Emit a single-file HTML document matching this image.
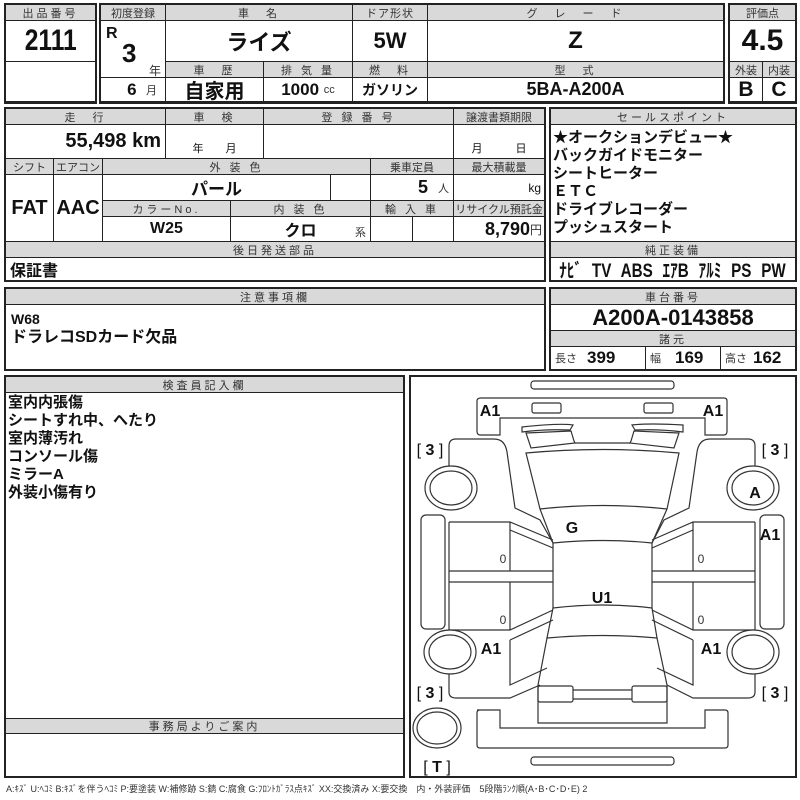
<!DOCTYPE html>
<html><head><meta charset="utf-8"><style>
body{margin:0;width:800px;height:800px;background:#fff;position:relative;overflow:hidden;font-family:"Liberation Sans Narrow","Liberation Sans","Noto Sans CJK JP",sans-serif;color:#111}
.b{position:absolute;box-sizing:border-box;border:1px solid #222;display:flex;align-items:center;justify-content:center;white-space:nowrap;background:#fff}
.h{background:#d9d9d9;font-size:11px;color:#333;letter-spacing:3px;font-family:"Liberation Sans","Noto Sans CJK JP",sans-serif}
.v{font-weight:bold;font-size:20px}
.o{position:absolute;box-sizing:border-box;border:2px solid #222}
.t{position:absolute;white-space:nowrap}
.s{font-size:11px;font-weight:normal;color:#333}
.n{display:inline-block;transform:scaleX(.82)}
</style></head><body>
<!-- top -->
<div class="o" style="left:4px;top:3px;width:93px;height:101px"></div>
<div class="b h" style="left:5px;top:4px;width:91px;height:17px">出品番号</div>
<div class="b v" style="left:5px;top:20px;width:91px;height:42px;font-size:30px"><span class="n">2111</span></div>
<div class="b" style="left:5px;top:61px;width:91px;height:41px"></div>

<div class="o" style="left:99px;top:3px;width:626px;height:101px"></div>
<div class="b h" style="left:100px;top:4px;width:66px;height:17px;letter-spacing:0">初度登録</div>
<div class="b h" style="left:165px;top:4px;width:188px;height:17px">車　名</div>
<div class="b h" style="left:352px;top:4px;width:76px;height:17px;letter-spacing:1px">ドア形状</div>
<div class="b h" style="left:427px;top:4px;width:297px;height:17px">グ　レ　ー　ド</div>
<div class="b" style="left:100px;top:20px;width:66px;height:58px"></div>
<div class="t" style="left:106px;top:25px;font-weight:bold;font-size:16px">R</div>
<div class="t" style="left:122px;top:38px;font-weight:bold;font-size:26px">3</div>
<div class="t s" style="left:149px;top:62px;font-size:12px">年</div>
<div class="b v" style="left:165px;top:20px;width:188px;height:42px;font-size:22px">ライズ</div>
<div class="b v" style="left:352px;top:20px;width:76px;height:42px;font-size:22px">5W</div>
<div class="b v" style="left:427px;top:20px;width:297px;height:42px;font-size:24px">Z</div>
<div class="b h" style="left:165px;top:61px;width:99px;height:17px">車　歴</div>
<div class="b h" style="left:263px;top:61px;width:90px;height:17px">排 気 量</div>
<div class="b h" style="left:352px;top:61px;width:76px;height:17px">燃　料</div>
<div class="b h" style="left:427px;top:61px;width:297px;height:17px">型　式</div>
<div class="b v" style="left:100px;top:77px;width:66px;height:25px;justify-content:flex-end;padding-right:8px;font-size:17px">6&nbsp;&nbsp;<span class="s">月</span></div>
<div class="b v" style="left:165px;top:77px;width:99px;height:25px;font-size:20px">自家用</div>
<div class="b v" style="left:263px;top:77px;width:90px;height:25px;font-size:17px">1000&nbsp;<span class="s">cc</span></div>
<div class="b v" style="left:352px;top:77px;width:76px;height:25px;font-size:14px">ガソリン</div>
<div class="b v" style="left:427px;top:77px;width:297px;height:25px;font-size:18px">5BA-A200A</div>

<div class="o" style="left:728px;top:3px;width:69px;height:101px"></div>
<div class="b h" style="left:729px;top:4px;width:67px;height:17px;letter-spacing:0">評価点</div>
<div class="b v" style="left:729px;top:20px;width:67px;height:42px;font-size:30px">4.5</div>
<div class="b h" style="left:729px;top:61px;width:34px;height:17px;letter-spacing:0">外装</div>
<div class="b h" style="left:762px;top:61px;width:34px;height:17px;letter-spacing:0">内装</div>
<div class="b v" style="left:729px;top:77px;width:34px;height:25px;font-size:21px">B</div>
<div class="b v" style="left:762px;top:77px;width:34px;height:25px;font-size:21px">C</div>

<!-- section 2 -->
<div class="o" style="left:4px;top:107px;width:542px;height:175px"></div>
<div class="b h" style="left:5px;top:108px;width:161px;height:17px">走　行</div>
<div class="b h" style="left:165px;top:108px;width:99px;height:17px">車　検</div>
<div class="b h" style="left:263px;top:108px;width:191px;height:17px">登 録 番 号</div>
<div class="b h" style="left:453px;top:108px;width:92px;height:17px;letter-spacing:0">譲渡書類期限</div>
<div class="b v" style="left:5px;top:124px;width:161px;height:35px;justify-content:flex-end;padding-right:4px">55,498 km</div>
<div class="b" style="left:165px;top:124px;width:99px;height:35px;align-items:flex-end;font-size:11px;padding-bottom:2px">年　　月</div>
<div class="b" style="left:263px;top:124px;width:191px;height:35px"></div>
<div class="b" style="left:453px;top:124px;width:92px;height:35px;align-items:flex-end;font-size:11px;padding-bottom:2px">月　　　日</div>
<div class="b h" style="left:5px;top:158px;width:49px;height:17px;letter-spacing:0">シフト</div>
<div class="b h" style="left:53px;top:158px;width:50px;height:17px;letter-spacing:0">エアコン</div>
<div class="b h" style="left:102px;top:158px;width:269px;height:17px">外 装 色</div>
<div class="b h" style="left:370px;top:158px;width:84px;height:17px;letter-spacing:0">乗車定員</div>
<div class="b h" style="left:453px;top:158px;width:92px;height:17px;letter-spacing:0">最大積載量</div>
<div class="b v" style="left:5px;top:174px;width:49px;height:68px">FAT</div>
<div class="b v" style="left:53px;top:174px;width:50px;height:68px">AAC</div>
<div class="b v" style="left:102px;top:174px;width:229px;height:27px;font-size:17px">パール</div>
<div class="b" style="left:330px;top:174px;width:41px;height:27px"></div>
<div class="b v" style="left:370px;top:174px;width:84px;height:27px;justify-content:flex-end;padding-right:4px;font-size:18px">5&nbsp;&nbsp;<span class="s">人</span></div>
<div class="b" style="left:453px;top:174px;width:92px;height:27px;justify-content:flex-end;padding-right:3px;font-size:12px">kg</div>
<div class="b h" style="left:102px;top:200px;width:129px;height:17px">カラーNo.</div>
<div class="b h" style="left:230px;top:200px;width:141px;height:17px">内 装 色</div>
<div class="b h" style="left:370px;top:200px;width:84px;height:17px">輸 入 車</div>
<div class="b h" style="left:453px;top:200px;width:92px;height:17px;letter-spacing:0">リサイクル預託金</div>
<div class="b v" style="left:102px;top:216px;width:129px;height:26px;font-size:16px">W25</div>
<div class="b v" style="left:230px;top:216px;width:141px;height:26px;font-size:16px">クロ</div>
<div class="t s" style="left:355px;top:224px">系</div>
<div class="b" style="left:370px;top:216px;width:43px;height:26px"></div>
<div class="b" style="left:412px;top:216px;width:42px;height:26px"></div>
<div class="b v" style="left:453px;top:216px;width:92px;height:26px;justify-content:flex-end;padding-right:2px;font-size:18px">8,790<span class="s" style="font-size:12px">円</span></div>
<div class="b h" style="left:5px;top:241px;width:540px;height:17px">後日発送部品</div>
<div class="b v" style="left:5px;top:257px;width:540px;height:24px;justify-content:flex-start;padding-left:4px;font-size:16px">保証書</div>

<div class="o" style="left:549px;top:107px;width:248px;height:175px"></div>
<div class="b h" style="left:550px;top:108px;width:246px;height:17px">セールスポイント</div>
<div class="b" style="left:550px;top:124px;width:246px;height:118px;align-items:flex-start;justify-content:flex-start;padding:4px 2px;font-weight:bold;font-size:15px;line-height:18px;font-family:'Liberation Sans','Noto Sans CJK JP',sans-serif;white-space:normal">★オークションデビュー★<br>バックガイドモニター<br>シートヒーター<br>ＥＴＣ<br>ドライブレコーダー<br>プッシュスタート</div>
<div class="b h" style="left:550px;top:241px;width:246px;height:17px">純正装備</div>
<div class="b v" style="left:550px;top:257px;width:246px;height:24px;font-size:19px;overflow:hidden"><span style="display:inline-block;transform:scaleX(.8);word-spacing:7px">ﾅﾋﾞ TV ABS ｴｱB ｱﾙﾐ PS PW</span></div>

<!-- section 3 -->
<div class="o" style="left:4px;top:287px;width:542px;height:84px"></div>
<div class="b h" style="left:5px;top:288px;width:540px;height:17px">注意事項欄</div>
<div class="b" style="left:5px;top:304px;width:540px;height:66px;align-items:flex-start;justify-content:flex-start;padding:5px 5px;font-weight:bold;font-size:16px;line-height:18px;white-space:normal"><span><span style="font-size:14px">W68</span><br>ドラレコSDカード欠品</span></div>
<div class="o" style="left:549px;top:287px;width:248px;height:84px"></div>
<div class="b h" style="left:550px;top:288px;width:246px;height:17px">車台番号</div>
<div class="b v" style="left:550px;top:304px;width:246px;height:27px;font-size:22px">A200A-0143858</div>
<div class="b h" style="left:550px;top:330px;width:246px;height:17px">諸元</div>
<div class="b v" style="left:550px;top:346px;width:96px;height:24px;font-size:17px;justify-content:flex-start;padding-left:4px"><span class="s" style="margin-right:10px">長さ</span>399</div>
<div class="b v" style="left:645px;top:346px;width:76px;height:24px;font-size:17px;justify-content:flex-start;padding-left:4px"><span class="s" style="margin-right:14px">幅</span>169</div>
<div class="b v" style="left:720px;top:346px;width:76px;height:24px;font-size:17px;justify-content:flex-start;padding-left:4px"><span class="s" style="margin-right:6px">高さ</span>162</div>

<!-- section 4 -->
<div class="o" style="left:4px;top:375px;width:401px;height:403px"></div>
<div class="b h" style="left:5px;top:376px;width:399px;height:17px">検査員記入欄</div>
<div class="t" style="left:8px;top:394px;font-weight:bold;font-size:15px;line-height:18px;font-family:'Liberation Sans','Noto Sans CJK JP',sans-serif">室内内張傷<br>シートすれ中、へたり<br>室内薄汚れ<br>コンソール傷<br>ミラーA<br>外装小傷有り</div>
<div class="b h" style="left:5px;top:718px;width:399px;height:16px">事務局よりご案内</div>

<div class="o" style="left:409px;top:375px;width:388px;height:403px"></div>
<svg style="position:absolute;left:0;top:0" width="800" height="800" viewBox="0 0 800 800">
<g fill="none" stroke="#333" stroke-width="1.2">
<rect x="531" y="381" width="143" height="8" rx="3"/>
<path d="M480,435 Q477,435 477,431 L477,401 Q477,398 481,398 L724,398 Q727,398 727,401 L727,431 Q727,435 724,435 L705,435 L705,418 L500,418 L500,435 Z"/>
<rect x="532" y="403" width="29" height="10" rx="2"/><rect x="644" y="403" width="29" height="10" rx="2"/>
<path d="M522,427 Q560,423 573,425 L570,430 Q545,429 522,432 Z"/><path d="M683,425 Q650,423 632,425 L635,430 Q660,429 683,432 Z"/>
<path d="M526,433 L571,431 L574,441 L575,443 L531,448 Z"/><path d="M679,433 L634,431 L631,441 L630,443 L674,448 Z"/>
<path d="M575,443 L630,443"/>
<path d="M526,453 Q603,446 679,453 L667,509 Q603,502 540,509 Z"/>
<path d="M540,509 L553,543 Q603,538 652,543 L667,509"/>
<path d="M553,543 L553,608 Q603,602 652,608 L652,543"/>
<path d="M553,608 L547,638 Q603,633 657,638 L652,608"/>
<path d="M547,638 L538,685 L538,723 L667,723 L667,685 L657,638"/>
<rect x="538" y="686" width="35" height="16" rx="2"/><rect x="632" y="686" width="35" height="16" rx="2"/>
<path d="M573,690 L632,690 M573,699 L632,699"/>
<path d="M477,710 L500,710 L500,728 L705,728 L705,710 L725,710 Q728,710 728,713 L728,745 Q728,748 725,748 L480,748 Q477,748 477,745 L477,713 Q477,710 480,710 Z"/>
<rect x="531" y="757" width="143" height="8" rx="3"/>
<path d="M449,466 L449,446 Q449,439 456,439 L494,439 Q505,439 507,452 L515,508 L540,520 L553,543"/>
<path d="M449,522 L510,522 L553,540 M510,522 L510,571 M449,522 L449,630 L510,630 L553,610 M449,571 L553,571 M449,582 L553,582 M510,582 L510,630"/>
<path d="M510,530 L553,548"/>
<path d="M510,640 L553,620 M510,640 L510,685 L547,668 M449,674 L449,692 Q449,698 456,698 L510,698 L540,685"/>
<rect x="421" y="515" width="24" height="114" rx="5"/>
<ellipse cx="451" cy="488" rx="26" ry="22" fill="#fff"/><ellipse cx="451" cy="488" rx="21" ry="17"/>
<ellipse cx="450" cy="652" rx="26" ry="22" fill="#fff"/><ellipse cx="450" cy="652" rx="21" ry="17"/>
<ellipse cx="437" cy="728" rx="24" ry="20"/><ellipse cx="437" cy="728" rx="20" ry="16"/>
<path d="M755,466 L755,446 Q755,439 748,439 L710,439 Q699,439 697,452 L689,508 L664,520 L652,543"/>
<path d="M755,522 L693,522 L652,540 M693,522 L693,571 M755,522 L755,630 L693,630 L652,610 M755,571 L652,571 M755,582 L652,582 M693,582 L693,630"/>
<path d="M693,530 L652,548"/>
<path d="M693,640 L652,620 M693,640 L693,685 L657,668 M755,674 L755,692 Q755,698 748,698 L693,698 L667,685"/>
<rect x="760" y="515" width="24" height="114" rx="5"/>
<ellipse cx="753" cy="488" rx="26" ry="22" fill="#fff"/><ellipse cx="753" cy="488" rx="21" ry="17"/>
<ellipse cx="753" cy="652" rx="26" ry="22" fill="#fff"/><ellipse cx="753" cy="652" rx="21" ry="17"/>
</g>
<g font-family="Liberation Sans, sans-serif" font-weight="bold" font-size="16" fill="#111" text-anchor="middle">
<text x="490" y="416">A1</text><text x="713" y="416">A1</text>
<text x="755" y="498">A</text><text x="770" y="540">A1</text>
<text x="572" y="533">G</text><text x="602" y="603">U1</text>
<text x="491" y="654">A1</text><text x="711" y="654">A1</text>
</g>
<g font-family="Liberation Sans, sans-serif" font-size="16" fill="#111" text-anchor="middle">
<text x="430" y="455">[ <tspan font-weight="bold">3</tspan> ]</text><text x="775" y="455">[ <tspan font-weight="bold">3</tspan> ]</text>
<text x="430" y="698">[ <tspan font-weight="bold">3</tspan> ]</text><text x="775" y="698">[ <tspan font-weight="bold">3</tspan> ]</text>
<text x="437" y="772">[ <tspan font-weight="bold">T</tspan> ]</text>
</g>
<g font-family="Liberation Sans, sans-serif" font-size="12" fill="#333" text-anchor="middle">
<text x="503" y="563">0</text><text x="503" y="624">0</text><text x="701" y="563">0</text><text x="701" y="624">0</text>
</g>
</svg>
<div class="t" style="left:6px;top:782px;font-size:9px;color:#333;font-family:'Liberation Sans','Noto Sans CJK JP',sans-serif">A:ｷｽﾞ U:ﾍｺﾐ B:ｷｽﾞを伴うﾍｺﾐ P:要塗装 W:補修跡 S:錆 C:腐食 G:ﾌﾛﾝﾄｶﾞﾗｽ点ｷｽﾞ XX:交換済み X:要交換　内・外装評価　5段階ﾗﾝｸ順(A･B･C･D･E) 2</div>
</body></html>
